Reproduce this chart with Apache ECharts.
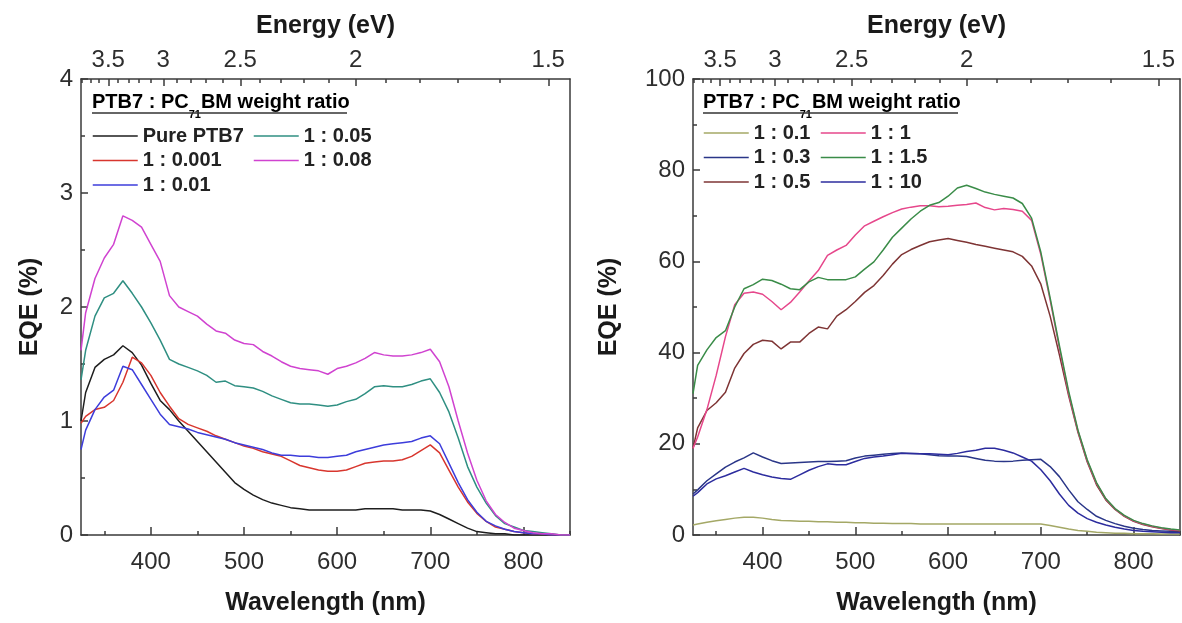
<!DOCTYPE html>
<html>
<head>
<meta charset="utf-8">
<script src="https://cdn.jsdelivr.net/npm/echarts@6/dist/echarts.min.js"></script>
<style>
html, body { margin: 0; padding: 0; background: #fff; }
#chart { width: 1182px; height: 623px; }
</style>
</head>
<body>
<div id="chart"></div>
<script>
// wavelength grid (nm) shared by every curve
var wavelengths = [325, 330, 340, 350, 360, 370, 380, 390, 400, 410,
  420, 430, 440, 450, 460, 470, 480, 490, 500, 510,
  520, 530, 540, 550, 560, 570, 580, 590, 600, 610,
  620, 630, 640, 650, 660, 670, 680, 690, 700, 710,
  720, 730, 740, 750, 760, 770, 780, 790, 800, 810,
  820, 830, 840, 850];

// left panel, EQE (%)
var purePTB7 = [1.00, 1.25, 1.47, 1.54, 1.58, 1.66, 1.60, 1.49, 1.33, 1.18,
  1.10, 1.00, 0.91, 0.82, 0.73, 0.64, 0.55, 0.46, 0.40, 0.35,
  0.31, 0.28, 0.26, 0.24, 0.23, 0.22, 0.22, 0.22, 0.22, 0.22,
  0.22, 0.23, 0.23, 0.23, 0.23, 0.22, 0.22, 0.22, 0.21, 0.18,
  0.14, 0.10, 0.06, 0.03, 0.02, 0.01, 0.01, 0, 0, 0,
  0, 0, 0, 0];
var r0001 = [0.98, 1.04, 1.10, 1.12, 1.18, 1.34, 1.56, 1.51, 1.40, 1.25,
  1.13, 1.02, 0.97, 0.94, 0.91, 0.87, 0.84, 0.81, 0.78, 0.76,
  0.73, 0.71, 0.69, 0.65, 0.61, 0.59, 0.57, 0.56, 0.56, 0.57,
  0.60, 0.63, 0.64, 0.65, 0.65, 0.66, 0.69, 0.74, 0.79, 0.72,
  0.57, 0.42, 0.29, 0.19, 0.12, 0.07, 0.05, 0.03, 0.02, 0.01,
  0.01, 0, 0, 0];
var r001 = [0.75, 0.92, 1.10, 1.21, 1.27, 1.48, 1.45, 1.32, 1.19, 1.06,
  0.97, 0.95, 0.93, 0.90, 0.88, 0.86, 0.84, 0.81, 0.79, 0.77,
  0.75, 0.72, 0.70, 0.70, 0.69, 0.69, 0.68, 0.68, 0.69, 0.70,
  0.73, 0.75, 0.77, 0.79, 0.80, 0.81, 0.82, 0.85, 0.87, 0.80,
  0.63, 0.46, 0.31, 0.20, 0.12, 0.08, 0.05, 0.03, 0.02, 0.01,
  0.01, 0, 0, 0];
var r005 = [1.36, 1.62, 1.92, 2.08, 2.12, 2.23, 2.12, 2.00, 1.86, 1.71,
  1.54, 1.50, 1.47, 1.44, 1.40, 1.34, 1.35, 1.31, 1.30, 1.29,
  1.26, 1.22, 1.19, 1.16, 1.15, 1.15, 1.14, 1.13, 1.14, 1.17,
  1.19, 1.24, 1.30, 1.31, 1.30, 1.30, 1.32, 1.35, 1.37, 1.25,
  1.08, 0.85, 0.60, 0.42, 0.28, 0.17, 0.10, 0.07, 0.04, 0.03,
  0.02, 0.01, 0, 0];
var r008 = [1.62, 1.95, 2.25, 2.43, 2.55, 2.80, 2.76, 2.70, 2.55, 2.40,
  2.10, 2.00, 1.96, 1.92, 1.85, 1.79, 1.77, 1.71, 1.68, 1.67,
  1.61, 1.57, 1.52, 1.48, 1.46, 1.45, 1.44, 1.41, 1.46, 1.48,
  1.51, 1.55, 1.60, 1.58, 1.57, 1.57, 1.58, 1.60, 1.63, 1.52,
  1.30, 1.00, 0.72, 0.48, 0.30, 0.18, 0.11, 0.06, 0.04, 0.02,
  0.01, 0.01, 0, 0];

// right panel, EQE (%)
var r01 = [2.2, 2.4, 2.8, 3.1, 3.4, 3.7, 3.9, 3.9, 3.7, 3.4,
  3.2, 3.1, 3.0, 3.0, 2.9, 2.9, 2.8, 2.8, 2.7, 2.7,
  2.6, 2.6, 2.5, 2.5, 2.5, 2.4, 2.4, 2.4, 2.4, 2.4,
  2.4, 2.4, 2.4, 2.4, 2.4, 2.4, 2.4, 2.4, 2.4, 2.1,
  1.7, 1.3, 1.0, 0.8, 0.6, 0.5, 0.4, 0.4, 0.3, 0.3,
  0.3, 0.2, 0.2, 0.2];
var r03 = [9.0, 9.9, 11.9, 13.4, 14.9, 16.0, 16.9, 18.0, 17.1, 16.3,
  15.7, 15.8, 15.9, 16.0, 16.1, 16.1, 16.2, 16.3, 16.9, 17.3,
  17.5, 17.7, 17.9, 18.0, 17.9, 17.8, 17.6, 17.4, 17.3, 17.3,
  17.2, 16.8, 16.4, 16.2, 16.1, 16.2, 16.4, 16.5, 16.6, 15.0,
  12.8, 9.9, 7.3, 5.6, 4.1, 3.2, 2.5, 1.9, 1.5, 1.2,
  1.0, 0.9, 0.8, 0.7];
var r05 = [19.0, 23.5, 27.3, 29.0, 31.3, 36.6, 39.8, 41.8, 42.7, 42.5,
  40.8, 42.3, 42.3, 44.2, 45.6, 45.2, 48.0, 49.4, 51.2, 53.2,
  54.7, 56.9, 59.4, 61.5, 62.6, 63.5, 64.3, 64.7, 65.0, 64.6,
  64.2, 63.7, 63.3, 62.9, 62.5, 62.1, 61.1, 59.0, 55.0, 48.0,
  39.5, 30.5, 22.5, 16.0, 11.0, 7.7, 5.6, 4.1, 3.0, 2.3,
  1.8, 1.4, 1.1, 0.9];
var r1 = [19.0, 21.5, 27.5, 35.0, 43.5, 50.5, 53.0, 53.3, 52.8, 51.2,
  49.4, 51.0, 53.3, 55.7, 58.0, 61.3, 62.5, 63.5, 65.8, 67.8,
  68.8, 69.8, 70.7, 71.5, 71.9, 72.2, 72.2, 72.0, 72.1, 72.3,
  72.5, 72.8, 71.8, 71.3, 71.6, 71.4, 71.0, 69.0, 61.5, 51.5,
  41.0, 31.0, 22.8, 16.3, 11.3, 7.9, 5.7, 4.2, 3.1, 2.4,
  1.9, 1.5, 1.2, 1.0];
var r15 = [31.0, 37.2, 40.6, 43.3, 44.8, 50.0, 54.0, 54.9, 56.1, 55.8,
  55.0, 54.0, 53.8, 55.5, 56.5, 56.0, 56.0, 56.0, 56.6, 58.3,
  59.9, 62.5, 65.3, 67.3, 69.3, 71.0, 72.3, 72.9, 74.3, 76.1,
  76.7, 76.0, 75.2, 74.7, 74.3, 73.9, 72.7, 69.5, 62.0, 52.0,
  41.5, 31.5, 23.0, 16.5, 11.5, 8.0, 5.8, 4.3, 3.2, 2.5,
  2.0, 1.6, 1.3, 1.1];
var r10 = [8.5, 9.3, 11.2, 12.3, 13.0, 13.8, 14.6, 13.8, 13.2, 12.7,
  12.4, 12.2, 13.2, 14.2, 15.0, 15.6, 15.4, 15.4, 16.1, 16.8,
  17.1, 17.3, 17.6, 17.9, 17.9, 17.8, 17.8, 17.7, 17.6, 17.9,
  18.3, 18.6, 19.0, 19.0, 18.6, 18.0, 17.1, 16.2, 14.3, 11.9,
  9.0, 6.5, 4.8, 3.6, 2.8, 2.2, 1.7, 1.3, 1.0, 0.8,
  0.7, 0.6, 0.5, 0.5];

// tick labels
var nmMajor = [400, 500, 600, 700, 800];
var nmMinor = [350, 450, 550, 650, 750, 850];
var energyLabels = [3.5, 3, 2.5, 2, 1.5];
var energyMinor = [3.8, 3.7, 3.6, 3.4, 3.3, 3.2, 3.1, 2.9, 2.8, 2.7, 2.6,
  2.4, 2.3, 2.2, 2.1, 1.9, 1.8, 1.7, 1.6];

var leftSeries = [
  {name: 'Pure PTB7', color: '#1e1e1e', values: purePTB7},
  {name: '1 : 0.001', color: '#d8362e', values: r0001},
  {name: '1 : 0.01', color: '#3d3ddb', values: r001},
  {name: '1 : 0.05', color: '#2f8f82', values: r005},
  {name: '1 : 0.08', color: '#d043d0', values: r008}
];
var rightSeries = [
  {name: '1 : 0.1', color: '#a4a866', values: r01},
  {name: '1 : 0.3', color: '#2a3688', values: r03},
  {name: '1 : 0.5', color: '#7e3434', values: r05},
  {name: '1 : 1', color: '#e6478b', values: r1},
  {name: '1 : 1.5', color: '#3a8c48', values: r15},
  {name: '1 : 10', color: '#2c2c9e', values: r10}
];

var FONT = '"Liberation Sans", Arial, sans-serif';
var AXIS_COLOR = '#3a3a3a';
var nmToEv = function (e) { return 1240 / e; };

function xAxesFor(grid) {
  var line = {color: AXIS_COLOR, width: 1.5};
  return [
    { // bottom, labelled
      type: 'value', gridIndex: grid, position: 'bottom', min: 325, max: 850,
      axisLine: {show: true, lineStyle: line},
      axisTick: {show: true, inside: true, length: 8, customValues: nmMajor, lineStyle: line},
      axisLabel: {show: true, customValues: nmMajor, margin: 15, fontSize: 24,
        color: '#2e2e2e', fontFamily: FONT},
      splitLine: {show: false},
      name: 'Wavelength (nm)', nameLocation: 'middle', nameGap: 56,
      nameTextStyle: {fontSize: 25, fontWeight: 'bold', color: '#1a1a1a', fontFamily: FONT}
    },
    { // bottom, minor ticks
      type: 'value', gridIndex: grid, position: 'bottom', min: 325, max: 850,
      axisLine: {show: false},
      axisTick: {show: true, inside: true, length: 4, customValues: nmMinor, lineStyle: line},
      axisLabel: {show: false}, splitLine: {show: false}
    },
    { // top energy scale
      type: 'value', gridIndex: grid, position: 'top', min: 325, max: 850,
      axisLine: {show: true, lineStyle: line},
      axisTick: {show: true, inside: true, length: 7,
        customValues: energyLabels.map(nmToEv), lineStyle: line},
      axisLabel: {show: true, customValues: energyLabels.map(nmToEv), margin: 7,
        fontSize: 24, color: '#2e2e2e', fontFamily: FONT,
        formatter: function (v) { return String(Math.round(1240 / v * 10) / 10); }},
      splitLine: {show: false},
      name: 'Energy (eV)', nameLocation: 'middle', nameGap: 40,
      nameTextStyle: {fontSize: 25, fontWeight: 'bold', color: '#1a1a1a', fontFamily: FONT}
    },
    { // top minor ticks (0.1 eV)
      type: 'value', gridIndex: grid, position: 'top', min: 325, max: 850,
      axisLine: {show: false},
      axisTick: {show: true, inside: true, length: 4,
        customValues: energyMinor.map(nmToEv), lineStyle: line},
      axisLabel: {show: false}, splitLine: {show: false}
    }
  ];
}

function yAxesFor(grid, max, interval, gap) {
  var line = {color: AXIS_COLOR, width: 1.5};
  return [
    {
      type: 'value', gridIndex: grid, position: 'left', min: 0, max: max, interval: interval,
      axisLine: {show: true, lineStyle: line},
      axisTick: {show: true, inside: true, length: 7, lineStyle: line},
      minorTick: {show: true, splitNumber: 2, length: 4, lineStyle: line},
      axisLabel: {margin: 8, fontSize: 24, color: '#2e2e2e', fontFamily: FONT},
      splitLine: {show: false},
      name: 'EQE (%)', nameLocation: 'middle', nameGap: gap,
      nameTextStyle: {fontSize: 25, fontWeight: 'bold', color: '#1a1a1a', fontFamily: FONT}
    },
    {
      type: 'value', gridIndex: grid, position: 'right', min: 0, max: max,
      axisLine: {show: true, lineStyle: line},
      axisTick: {show: false}, axisLabel: {show: false}, splitLine: {show: false}
    }
  ];
}

function lineSeries(list, xIndex, yIndex) {
  return list.map(function (s) {
    return {
      name: s.name, type: 'line', xAxisIndex: xIndex, yAxisIndex: yIndex,
      symbol: 'none', smooth: false, animation: false,
      lineStyle: {color: s.color, width: 1.5},
      itemStyle: {color: s.color},
      data: wavelengths.map(function (w, i) { return [w, s.values[i]]; })
    };
  });
}

function legendCol(names, left, top) {
  return {
    data: names, orient: 'vertical', left: left, top: top, padding: 0,
    itemGap: 4.5, itemWidth: 45, itemHeight: 20, selectedMode: false,
    itemStyle: {opacity: 0},
    lineStyle: {width: 1.5},
    textStyle: {fontSize: 20, fontWeight: 'bold', color: '#222', fontFamily: FONT, lineHeight: 20}
  };
}

function legendTitle(x, y, width) {
  var rich = {
    t: {fontSize: 20, fontWeight: 'bold', color: '#222', fontFamily: FONT, lineHeight: 28, verticalAlign: 'top'},
    s: {fontSize: 11, fontWeight: 'bold', color: '#222', fontFamily: FONT, lineHeight: 28, verticalAlign: 'bottom'}
  };
  return [
    {type: 'text', left: x, top: y,
      style: {text: '{t|PTB7 : PC}{s|71}{t|BM weight ratio}', rich: rich}},
    {type: 'line', shape: {x1: x, y1: y + 21, x2: x + width, y2: y + 21},
      style: {stroke: '#333', lineWidth: 1.5}}
  ];
}

var chart = echarts.init(document.getElementById('chart'));
chart.setOption({
  backgroundColor: '#fff',
  animation: false,
  grid: [
    {left: 81, top: 79, width: 489, height: 456, outerBoundsMode: 'none'},
    {left: 693, top: 79, width: 487, height: 456, outerBoundsMode: 'none'}
  ],
  xAxis: xAxesFor(0).concat(xAxesFor(1)),
  yAxis: yAxesFor(0, 4, 1, 38).concat(yAxesFor(1, 100, 20, 71)),
  legend: [
    legendCol(['Pure PTB7', '1 : 0.001', '1 : 0.01'], 92, 126),
    legendCol(['1 : 0.05', '1 : 0.08'], 253, 126),
    legendCol(['1 : 0.1', '1 : 0.3', '1 : 0.5'], 703, 123),
    legendCol(['1 : 1', '1 : 1.5', '1 : 10'], 820, 123)
  ],
  graphic: legendTitle(92, 92, 255).concat(legendTitle(703, 92, 255)),
  series: lineSeries(leftSeries, 0, 0).concat(lineSeries(rightSeries, 4, 2))
});
window.onresize = chart.resize;
</script>
</body>
</html>
